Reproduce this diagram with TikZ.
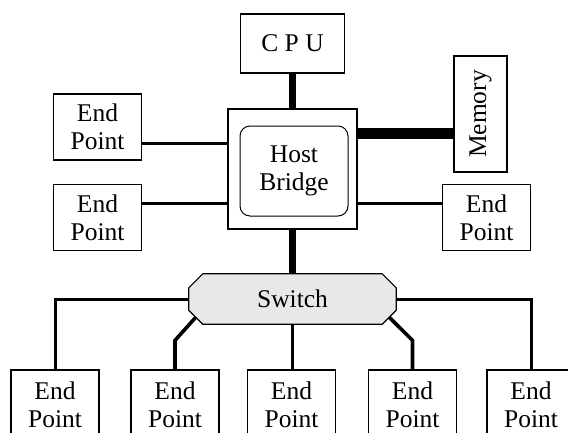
\documentclass[tikz,border=0pt]{standalone}
\usepackage{fontspec}
\setmainfont{Liberation Serif}
\usetikzlibrary{backgrounds}
\tikzset{
  lbl/.style={font=\fontsize{25.5}{28}\selectfont},
  box/.style={draw, line width=1.2pt, fill=white, inner sep=0pt, align=center, lbl},
  ep/.style={box, minimum width=88pt, minimum height=66pt},
  epb/.style={box, minimum width=88pt, minimum height=70pt},
  thin link/.style={line width=3pt},
  diag link/.style={line width=3.6pt, line join=miter},
  thick link/.style={line width=7pt},
  mem link/.style={line width=11pt},
}
\begin{document}
\begin{tikzpicture}[x=1pt,y=-1pt]
\useasboundingbox (0,0) rectangle (568,432);
\clip (0,0) rectangle (568,432);
% nodes
\node[box, minimum width=104pt, minimum height=59pt] (cpu) at (292.5,43.5) {C P U};
\node[box, minimum width=129pt, minimum height=120pt] (host) at (292.5,169) {};
\node[draw, line width=1pt, rounded corners=10pt, minimum width=108pt, minimum height=90pt,
      inner sep=0pt, align=center, lbl] (hbin) at (294,171) {Host\\Bridge};
\node[box, minimum width=53pt, minimum height=116pt] (mem) at (480.5,114) {\rotatebox{90}{Memory}};
\node[ep] (epR) at (486.5,217.5) {End\\Point};
\node[ep] (epL1) at (97.5,127) {End\\Point};
\node[ep] (epL2) at (97.5,217.5) {End\\Point};
\node[inner sep=0pt, minimum width=207pt, minimum height=50pt, lbl] (sw) at (292.5,299) {Switch};
\begin{pgfonlayer}{background}
\draw[line width=1.2pt, fill={rgb,255:red,232;green,232;blue,232}]
  ([xshift=14pt]sw.north west) -- ([xshift=-14pt]sw.north east)
  -- ([yshift=-14pt]sw.north east) -- ([yshift=14pt]sw.south east)
  -- ([xshift=-14pt]sw.south east) -- ([xshift=14pt]sw.south west)
  -- ([yshift=14pt]sw.south west) -- ([yshift=-14pt]sw.north west) -- cycle;
\end{pgfonlayer}
\node[epb] (b1) at (55,405) {End\\Point};
\node[epb] (b2) at (175,405) {End\\Point};
\node[epb] (b3) at (291.5,405) {End\\Point};
\node[epb] (b4) at (412.5,405) {End\\Point};
\node[epb] (b5) at (531,405) {End\\Point};
% helper coordinates
\coordinate (hm) at ([yshift=36pt]host.east);
\coordinate (he) at ([yshift=-34pt]host.east);
\coordinate (hl1) at ([yshift=26pt]host.west);
\coordinate (hl2) at ([yshift=-34pt]host.west);
\coordinate (s2) at ([shift={(7pt,7pt)}]sw.south west);
\coordinate (s4) at ([shift={(-7pt,7pt)}]sw.south east);
\coordinate (k2) at ([yshift=29pt]b2.north);
\coordinate (k4) at ([yshift=29pt]b4.north);
% connectors
\draw[thick link] (cpu.south) -- (host.north);
\draw[thick link] (host.south) -- (sw.north);
\draw[mem link] (hm) -- (hm -| mem.west);
\draw[thin link] (he) -- (he -| epR.west);
\draw[thin link] (hl1 -| epL1.east) -- (hl1);
\draw[thin link] (hl2 -| epL2.east) -- (hl2);
\draw[thin link] (sw.west) -| (b1.north);
\draw[diag link] (s2) -- (k2) -- (b2.north);
\draw[thin link] (sw.south) -- (sw.south |- b3.north);
\draw[diag link] (s4) -- (k4) -- (b4.north);
\draw[thin link] (sw.east) -| (b5.north);
\end{tikzpicture}
\end{document}
